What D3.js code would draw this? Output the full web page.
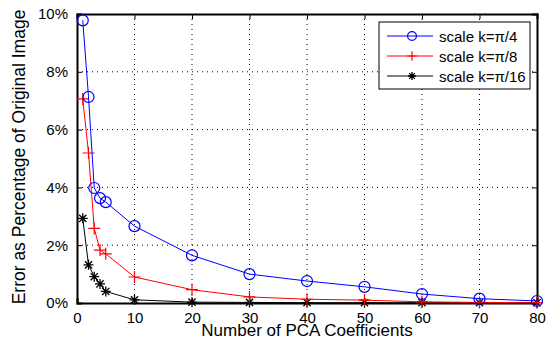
<!DOCTYPE html>
<html>
<head>
<meta charset="utf-8">
<script src="https://cdn.jsdelivr.net/npm/d3@7"></script>
<style>
  body { margin: 0; background: #fff; }
  svg text { font-family: "Liberation Sans", Arial, sans-serif; fill: #000; }
</style>
</head>
<body>
<svg id="chart" width="549" height="346"></svg>
<script>
// coefficients on the x axis
var coeffs = [1, 2, 3, 4, 5, 10, 20, 30, 40, 50, 60, 70, 80];

// error (%) for each scale
var errPi4  = [9.78, 7.13, 3.98, 3.63, 3.49, 2.66, 1.65, 1.0, 0.76, 0.56, 0.31, 0.15, 0.07];
var errPi8  = [7.06, 5.19, 2.58, 1.83, 1.70, 0.90, 0.46, 0.21, 0.13, 0.10, 0.04, 0.02, 0.01];
var errPi16 = [2.93, 1.32, 0.91, 0.66, 0.40, 0.11, 0.03, 0.02, 0.01, 0.01, 0.01, 0.01, 0.01];

var seriesNames = ["scale k=\u03c0/4", "scale k=\u03c0/8", "scale k=\u03c0/16"];
var xTicks = [0, 10, 20, 30, 40, 50, 60, 70, 80];
var yTicks = [0, 2, 4, 6, 8, 10];

var margin = {left: 77, top: 14, right: 12, bottom: 43};
var W = 549, H = 346;
var w = W - margin.left - margin.right;
var h = H - margin.top - margin.bottom;

var svg = d3.select("#chart");
var g = svg.append("g").attr("transform", "translate(" + margin.left + "," + margin.top + ")");

var x = d3.scaleLinear().domain([0, 80]).range([0, w]);
var y = d3.scaleLinear().domain([0, 10]).range([h, 0]);

// dotted grid
g.selectAll(".gx").data(xTicks.slice(1, -1)).enter().append("line")
  .attr("x1", d => x(d)).attr("x2", d => x(d)).attr("y1", 0).attr("y2", h)
  .attr("stroke", "#000").attr("stroke-width", 1).attr("stroke-dasharray", "1,4");
g.selectAll(".gy").data(yTicks.slice(1, -1)).enter().append("line")
  .attr("y1", d => y(d)).attr("y2", d => y(d)).attr("x1", 0).attr("x2", w)
  .attr("stroke", "#000").attr("stroke-width", 1).attr("stroke-dasharray", "1,4");

// axes with inward ticks
g.append("g").attr("transform", "translate(0," + h + ")")
  .call(d3.axisBottom(x).tickValues(xTicks).tickSize(-5).tickPadding(9));
g.append("g")
  .call(d3.axisLeft(y).tickValues(yTicks).tickSize(-5).tickPadding(9).tickFormat(d => d + "%"));
g.append("g").call(d3.axisTop(x).tickValues(xTicks).tickSize(-5).tickFormat(""));
g.append("g").attr("transform", "translate(" + w + ",0)")
  .call(d3.axisRight(y).tickValues(yTicks).tickSize(-5).tickFormat(""));

g.selectAll(".domain").attr("stroke", "#000").attr("stroke-width", 2);
g.selectAll(".tick line").attr("stroke", "#000");
g.selectAll(".tick text").style("font-size", "15px").attr("fill", "#000");

// lines + markers
var series = [
  {name: seriesNames[0], vals: errPi4, color: "#0000ff", marker: "circle"},
  {name: seriesNames[1], vals: errPi8, color: "#ff0000", marker: "plus"},
  {name: seriesNames[2], vals: errPi16, color: "#000000", marker: "star"}
];

var line = d3.line().x(d => x(d[0])).y(d => y(d[1]));

function drawMarker(sel, type, color, s) {
  s = s || 1;
  if (type === "circle") {
    sel.append("circle").attr("r", 5.5 * s).attr("fill", "none").attr("stroke", color).attr("stroke-width", 1.2);
  } else if (type === "plus") {
    var a = 6 * s;
    sel.append("path").attr("d", "M-" + a + ",0H" + a + "M0,-" + a + "V" + a)
      .attr("stroke", color).attr("stroke-width", 1.2);
  } else {
    var b = 5 * s, c = 3.6 * s;
    sel.append("path").attr("d", "M-" + b + ",0H" + b + "M0,-" + b + "V" + b +
        "M-" + c + ",-" + c + "L" + c + "," + c + "M-" + c + "," + c + "L" + c + ",-" + c)
      .attr("stroke", color).attr("stroke-width", 1.3);
  }
}

series.slice().reverse().forEach(function(s) {
  var pts = coeffs.map((c, i) => [c, s.vals[i]]);
  g.append("path").datum(pts).attr("d", line).attr("fill", "none")
    .attr("stroke", s.color).attr("stroke-width", 1);
  g.selectAll(null).data(pts).enter().append("g")
    .attr("transform", d => "translate(" + x(d[0]) + "," + y(d[1]) + ")")
    .each(function() { drawMarker(d3.select(this), s.marker, s.color); });
});

// legend
var lg = svg.append("g").attr("transform", "translate(379,22)");
lg.append("rect").attr("width", 151).attr("height", 67)
  .attr("fill", "#fff").attr("stroke", "#000").attr("stroke-width", 1);
series.forEach(function(s, i) {
  var row = lg.append("g").attr("transform", "translate(0," + (14 + i * 20) + ")");
  row.append("line").attr("x1", 8).attr("x2", 54).attr("y1", 0).attr("y2", 0)
    .attr("stroke", s.color).attr("stroke-width", 1);
  drawMarker(row.append("g").attr("transform", "translate(33,0)"), s.marker, s.color, 0.8);
  row.append("text").attr("x", 60).attr("y", 5.5).style("font-size", "15px").text(s.name);
});

// axis titles
svg.append("text").attr("x", margin.left + w / 2).attr("y", 336)
  .attr("text-anchor", "middle").style("font-size", "17px").text("Number of PCA Coefficients");
svg.append("text").attr("transform", "translate(25,157) rotate(-90)")
  .attr("text-anchor", "middle").style("font-size", "17.5px").text("Error as Percentage of Original Image");
</script>
</body>
</html>
